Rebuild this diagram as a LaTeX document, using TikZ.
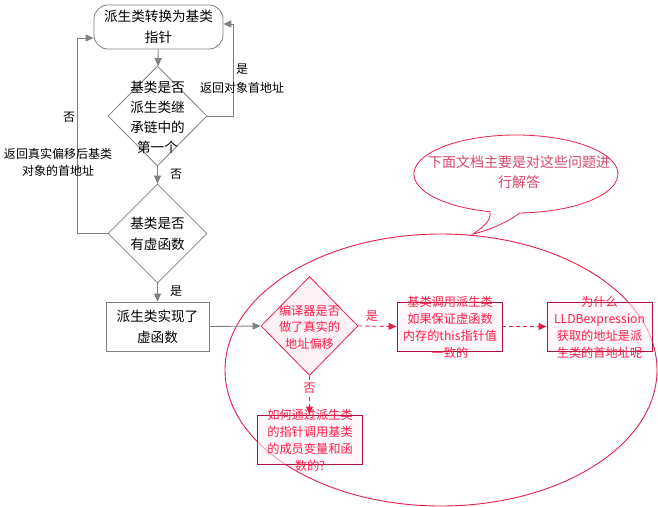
\documentclass[tikz,border=0pt]{standalone}
\usepackage{fontspec}
\setmainfont{Noto Sans CJK SC}
\usetikzlibrary{shapes.geometric,arrows.meta,calc}
\definecolor{lgray}{HTML}{808080}
\definecolor{redline}{HTML}{E8204A}
\definecolor{redtext}{HTML}{FF1E4A}
\definecolor{redbox}{HTML}{B0123E}
\definecolor{bubtext}{HTML}{D84868}
\definecolor{pinkfill}{HTML}{FFF2F6}
\begin{document}
\begin{tikzpicture}[x=1pt,y=-1pt,
  garr/.style={draw=lgray,line width=0.9pt,-{Triangle[length=8pt,width=7pt]}},
  rarr/.style={draw=redline,line width=0.9pt,dash pattern=on 4pt off 3pt,-{Triangle[length=8pt,width=7pt]}},
  gbox/.style={draw=lgray,line width=0.8pt,fill=white,inner sep=0},
  gdia/.style={diamond,draw=lgray,line width=0.8pt,fill=white,inner sep=0},
  rdia/.style={diamond,draw=redline,line width=0.8pt,fill=pinkfill,inner sep=0},
  rbox/.style={draw=redbox,line width=0.8pt,fill=pinkfill,fill opacity=0.6,text opacity=1,inner sep=0},
  btxt/.style={align=center,inner sep=0,font=\fontsize{13.6}{20.5}\selectfont},
  ltxt/.style={align=center,inner sep=0,font=\fontsize{12}{17}\selectfont},
  rtxt/.style={align=center,inner sep=0,text=redtext,font=\fontsize{12.2}{17}\selectfont}
]
\useasboundingbox (0,0) rectangle (658,506);
\fill[white] (0,0) rectangle (658,506);

% big red ellipse
\draw[redline,line width=0.9pt] (441,370) ellipse [x radius=216, y radius=136];

% speech bubble
\draw[redline,line width=0.8pt,fill=white,fill opacity=0.95]
  (489.9,211.7) arc[start angle=104.8,end angle=447.8,x radius=102,y radius=39]
  .. controls (505,224) and (486,231) .. (473,234)
  .. controls (484,227) and (492,219) .. (489.9,211.7) -- cycle;
\node[align=center,inner sep=0,text=bubtext,font=\fontsize{14}{20}\selectfont] (bubt) at (519,172) {下面文档主要是对这些问题进\\行解答};

% left flow
\node[gbox,rounded corners=14pt,minimum width=129pt,minimum height=44pt] (top) at (158.5,27) {};
\node[btxt] (topt) at (158.5,27) {派生类转换为基类\\指针};
\node[gdia,minimum width=99pt,minimum height=100pt] (d1) at (157.5,116) {};
\node[btxt,font=\fontsize{13.6}{20}\selectfont] (d1t) at (157.5,117) {基类是否\\派生类继\\承链中的\\第一个};
\node[gdia,minimum width=99pt,minimum height=99pt] (d2) at (157.5,233.5) {};
\node[btxt] (d2t) at (157.5,234) {基类是否\\有虚函数};
\node[gbox,minimum width=103pt,minimum height=49pt] (r1) at (157.5,326.5) {};
\node[btxt] (r1t) at (157.5,327) {派生类实现了\\虚函数};

\coordinate (rt) at (233,24);
\coordinate (lt) at (77,38);
\draw[garr] (top) -- (d1);
\draw[garr] (d1) -- (d2);
\draw[garr] (d2) -- (r1);
\draw[garr] (d1.east) -| (rt) -- (rt -| top.east);
\draw[garr] (d2.west) -| (lt) -- (lt -| top.west);

\node[ltxt] (l1) at (242,69) {是};
\node[ltxt] (l2) at (242,88) {返回对象首地址};
\node[ltxt] (l3) at (69,117) {否};
\node[ltxt] (l4) at (58,162) {返回真实偏移后基类\\对象的首地址};
\node[ltxt] (l5) at (176,174) {否};
\node[ltxt] (l6) at (176,291) {是};

% red part
\node[rdia,minimum width=97pt,minimum height=99pt] (d3) at (309.5,326) {};
\node[rtxt,font=\fontsize{12.2}{16.5}\selectfont] (d3t) at (309.5,327) {编译器是否\\做了真实的\\地址偏移};
\node[rbox,minimum width=105pt,minimum height=49pt] (r2) at (449.5,326.5) {};
\node[rtxt] (r2t) at (450,327.5) {基类调用派生类\\如果保证虚函数\\内存的this指针值\\一致的};
\node[rbox,minimum width=105pt,minimum height=49pt] (r3) at (599.5,326.5) {};
\node[rtxt] (r3t) at (599.5,327.5) {为什么\\LLDBexpression\\获取的地址是派\\生类的首地址呢};
\node[rbox,minimum width=105pt,minimum height=49pt] (r4) at (309.5,439.5) {};
\node[rtxt] (r4t) at (310,440) {如何通过派生类\\的指针调用基类\\的成员变量和函\\数的?};

\draw[garr] (r1.east) -- (d3.west);
\draw[rarr] (d3.east) -- (r2.west);
\draw[rarr] (r2.east) -- (r3.west);
\draw[rarr] (d3.south) -- (r4.north);
\node[rtxt,fill=white,inner sep=1pt] (l7) at (372,316) {是};
\node[rtxt,fill=white,inner sep=1pt] (l8) at (309.5,388) {否};
\end{tikzpicture}
\end{document}
